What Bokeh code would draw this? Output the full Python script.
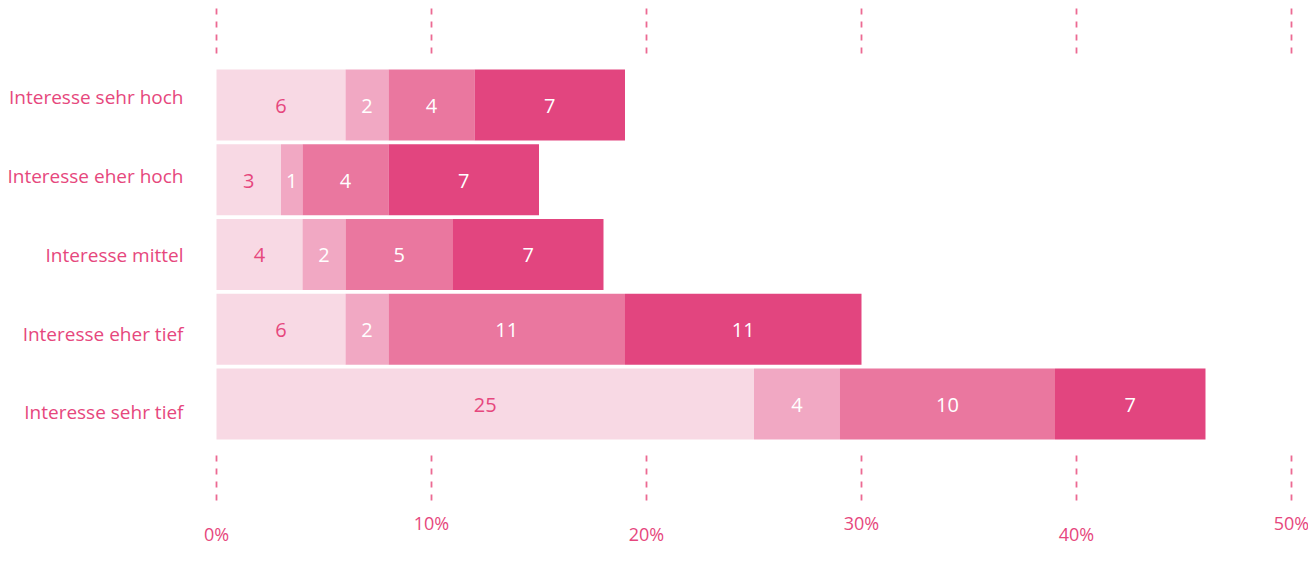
import numpy as np
from bokeh.plotting import figure
from bokeh.models import ColumnDataSource, Range1d, LinearAxis, FixedTicker, LabelSet
from bokeh.core.properties import value
from bokeh.embed import file_html
from bokeh.resources import INLINE

# ---- data ----
categories = ["Interesse sehr hoch", "Interesse eher hoch", "Interesse mittel",
              "Interesse eher tief", "Interesse sehr tief"]
seg1 = [6, 3, 4, 6, 25]
seg2 = [2, 1, 2, 2, 4]
seg3 = [4, 4, 5, 11, 10]
seg4 = [7, 7, 7, 11, 7]
x_ticks = [0, 10, 20, 30, 40, 50]
tick_labels = ["0%", "10%", "20%", "30%", "40%", "50%"]

# ---- style ----
colors = ["#f8d9e4", "#f1a8c3", "#ea779f", "#e2457f"]
text_pink = "#e6477d"
dash_pink = "#ec6a93"
FONT = "Open Sans"

n = len(categories)
ypos = list(range(n))
src = ColumnDataSource(dict(y=ypos, s1=seg1, s2=seg2, s3=seg3, s4=seg4))

pad = 0.689       # space between bars and dashed ticks (row units)
dash_len = 0.602  # length of dashed tick marks (row units)
top_y = -(pad + dash_len)
bot_y = (n - 1) + pad + dash_len

p = figure(width=1308, height=545,
           x_range=Range1d(-1.0233, 50.791),
           y_range=Range1d(bot_y + dash_len, top_y - 0.107),
           output_backend="svg", toolbar_location=None,
           x_axis_location=None, y_axis_location=None,
           min_border_left=194, min_border_right=0,
           min_border_top=0, min_border_bottom=0)
p.outline_line_color = None
p.xgrid.visible = False
p.ygrid.visible = False
p.border_fill_color = "white"

p.hbar_stack(["s1", "s2", "s3", "s4"], y="y", height=0.95, color=colors,
             line_color=None, source=src)

# dashed tick marks above and below the bars
p.segment(x0=x_ticks, x1=x_ticks, y0=[top_y] * len(x_ticks), y1=[-pad] * len(x_ticks),
          line_color=dash_pink, line_width=1.8, line_dash="6 7")
p.segment(x0=x_ticks, x1=x_ticks, y0=[(n - 1) + pad] * len(x_ticks), y1=[bot_y] * len(x_ticks),
          line_color=dash_pink, line_width=1.8, line_dash="6 7")

# value labels inside segments
segs = np.array([seg1, seg2, seg3, seg4], dtype=float)
starts = np.vstack([np.zeros(n), np.cumsum(segs, axis=0)[:-1]])
centers = starts + segs / 2
lx, ly, lt, lc = [], [], [], []
for k in range(4):
    for i in range(n):
        lx.append(centers[k, i])
        ly.append(ypos[i])
        lt.append(str(int(segs[k, i])))
        lc.append(text_pink if k == 0 else "white")
p.text(x=lx, y=ly, text=lt, text_color=lc, text_align="center",
       text_baseline="middle", text_font=value(FONT), text_font_size="20px",
       y_offset=1)

# x tick labels, staggered in two rows below the dashed ticks
upper = [i for i in range(len(x_ticks)) if i % 2 == 1]
lower = [i for i in range(len(x_ticks)) if i % 2 == 0]
src_up = ColumnDataSource(dict(x=[x_ticks[i] for i in upper], y=[bot_y] * len(upper),
                               t=[tick_labels[i] for i in upper]))
src_lo = ColumnDataSource(dict(x=[x_ticks[i] for i in lower], y=[bot_y] * len(lower),
                               t=[tick_labels[i] for i in lower]))
p.add_layout(LabelSet(x="x", y="y", text="t", source=src_up, y_offset=-22,
                      text_align="center", text_baseline="middle",
                      text_color=text_pink, text_font=value(FONT), text_font_size="18px"))
p.add_layout(LabelSet(x="x", y="y", text="t", source=src_lo, y_offset=-33,
                      text_align="center", text_baseline="middle",
                      text_color=text_pink, text_font=value(FONT), text_font_size="18px"))

# category labels on the left
p.extra_y_ranges = {"labels": Range1d(start=5.689, end=-1.2317)}
left = LinearAxis(y_range_name="labels", ticker=FixedTicker(ticks=ypos),
                  major_label_overrides={i: c for i, c in zip(ypos, categories)},
                  major_tick_out=0, major_tick_in=0, minor_tick_out=0, minor_tick_in=0,
                  axis_line_color=None, major_label_standoff=11,
                  major_label_text_color=text_pink, major_label_text_font=FONT,
                  major_label_text_font_size="19px")
p.add_layout(left, "left")

open("out.html", "w").write(file_html(p, INLINE))
